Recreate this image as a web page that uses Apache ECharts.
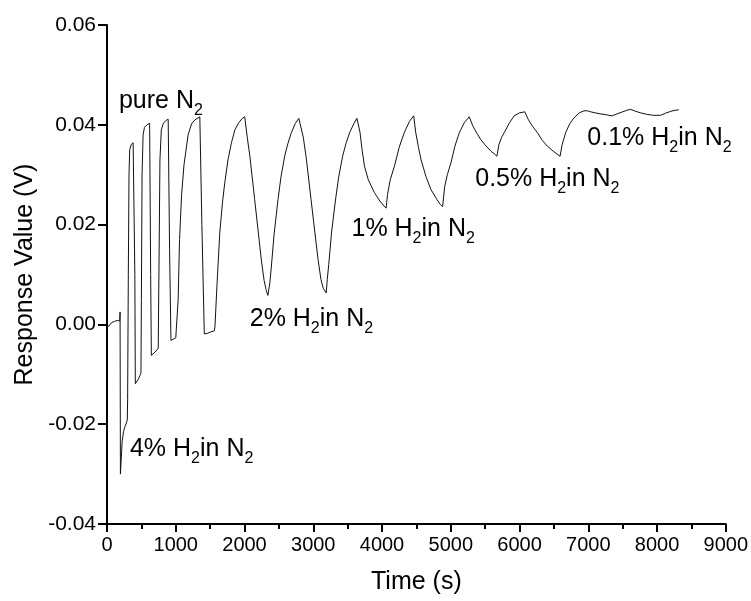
<!DOCTYPE html>
<html>
<head>
<meta charset="utf-8">
<script src="https://cdn.jsdelivr.net/npm/echarts@6/dist/echarts.min.js"></script>
<style>
  html, body { margin: 0; padding: 0; background: #fff; }
  #chart { width: 751px; height: 601px; }
</style>
</head>
<body>
<div id="chart"></div>
<script>
// response trace, [time (s), voltage (V)]
const trace = [
  [0, -0.0004], [30, -0.0003], [50, 0.0001], [70, 0.0004], [90, 0.0002], [110, 0.0006],
  [130, 0.0004], [150, 0.0008], [170, 0.0009], [185, 0.0007],
  // 4% H2 pulses
  [190, 0.0025], [195, -0.0300], [205, -0.0275], [220, -0.0235], [240, -0.0215],
  [260, -0.0205], [280, -0.0198], [295, -0.0192],
  [300, -0.0150], [310, 0.0100], [320, 0.0300], [330, 0.0350], [350, 0.0360], [380, 0.0364], [395, 0.0366],
  [405, 0.0100], [412, -0.0119], [430, -0.0115], [455, -0.0110], [480, -0.0102], [494, -0.0097],
  [500, 0.0050], [510, 0.0300], [525, 0.0380], [545, 0.0395], [580, 0.0400], [620, 0.0403],
  [635, 0.0100], [645, -0.0062], [680, -0.0058], [715, -0.0053], [745, -0.0048],
  [755, 0.0100], [770, 0.0330], [790, 0.0390], [820, 0.0403], [860, 0.0409], [890, 0.0411],
  [910, 0.0150], [930, -0.0032], [960, -0.0030], [1000, -0.0027], [1026, -0.0025],
  [1035, 0.0050], [1055, 0.0170], [1085, 0.0260], [1120, 0.0320], [1180, 0.0380],
  [1230, 0.0402], [1280, 0.0410], [1350, 0.0416],
  [1380, 0.0200], [1415, -0.0019], [1460, -0.0018], [1510, -0.0015], [1560, -0.0013], [1570, -0.0005],
  [1600, 0.0080], [1640, 0.0183], [1680, 0.0245], [1713, 0.0284], [1760, 0.0330], [1810, 0.0364],
  [1860, 0.0390], [1920, 0.0405], [1970, 0.0413], [2003, 0.0416],
  // 2% H2
  [2040, 0.0375], [2080, 0.0335], [2148, 0.0250], [2200, 0.0185], [2245, 0.0129], [2285, 0.0088],
  [2317, 0.0068], [2340, 0.0058], [2356, 0.0055],
  [2370, 0.0085], [2390, 0.0115], [2430, 0.0180], [2487, 0.0250], [2530, 0.0295], [2584, 0.0337],
  [2630, 0.0362], [2681, 0.0384], [2740, 0.0403], [2790, 0.0413], [2816, 0.0416],
  [2855, 0.0375], [2897, 0.0335], [2968, 0.0250], [3023, 0.0185], [3070, 0.0130], [3112, 0.0090],
  [3146, 0.0072], [3189, 0.0063],
  [3204, 0.0090], [3225, 0.0120], [3267, 0.0185], [3327, 0.0253], [3372, 0.0297], [3429, 0.0338],
  [3477, 0.0363], [3531, 0.0385], [3593, 0.0403], [3635, 0.0413], [3660, 0.0416],
  // 1% H2
  [3680, 0.0385], [3710, 0.0350], [3745, 0.0317], [3800, 0.0290], [3890, 0.0264], [3970, 0.0247],
  [4030, 0.0237], [4060, 0.0233],
  [4080, 0.0260], [4120, 0.0290], [4181, 0.0317], [4250, 0.0355], [4326, 0.0385], [4400, 0.0407], [4461, 0.0418],
  [4490, 0.0385], [4530, 0.0355], [4568, 0.0330], [4640, 0.0296], [4713, 0.0270], [4800, 0.0250],
  [4850, 0.0240], [4882, 0.0236],
  [4910, 0.0275], [4950, 0.0300], [5003, 0.0324], [5060, 0.0357], [5124, 0.0384], [5200, 0.0405], [5269, 0.0416],
  // 0.5% H2
  [5320, 0.0398], [5380, 0.0383], [5439, 0.0370], [5510, 0.0358], [5585, 0.0347], [5640, 0.0341], [5671, 0.0337],
  [5700, 0.0360], [5740, 0.0375], [5777, 0.0384], [5850, 0.0403], [5922, 0.0418], [6000, 0.0424], [6077, 0.0426],
  [6130, 0.0410], [6190, 0.0397], [6261, 0.0384], [6330, 0.0369], [6406, 0.0357], [6500, 0.0346],
  [6560, 0.0340], [6590, 0.0337],
  [6620, 0.0360], [6673, 0.0385], [6730, 0.0402], [6793, 0.0414], [6870, 0.0424], [6939, 0.0428], [6990, 0.0428],
  // 0.1% H2
  [7035, 0.0426], [7100, 0.0424], [7170, 0.0422], [7229, 0.0421], [7300, 0.0419], [7350, 0.0418],
  [7420, 0.0422], [7500, 0.0426], [7560, 0.0429], [7616, 0.0431], [7690, 0.0427], [7761, 0.0424],
  [7850, 0.0421], [7950, 0.0419], [8051, 0.0419], [8120, 0.0423], [8200, 0.0427], [8260, 0.0429], [8316, 0.0430]
];

// annotation anchors (left edge of text, middle of caps)
const labelTimes  = [174, 334, 2076, 3556, 5356, 6987];
const labelValues = [0.0448, -0.0250, 0.0011, 0.0191, 0.0292, 0.0373];
const labelTexts  = [
  'pure N{s|2}',
  '4% H{s|2}in N{s|2}',
  '2% H{s|2}in N{s|2}',
  '1% H{s|2}in N{s|2}',
  '0.5% H{s|2}in N{s|2}',
  '0.1% H{s|2}in N{s|2}'
];

const FONT = '"Liberation Sans", Arial, sans-serif';

const chart = echarts.init(document.getElementById('chart'), null, { renderer: 'canvas' });

const labelData = labelTimes.map((t, i) => ({ value: [t, labelValues[i]], text: labelTexts[i] }));

chart.setOption({
  animation: false,
  backgroundColor: '#fff',
  grid: { left: 107, right: 24, top: 25, bottom: 77 },
  xAxis: {
    type: 'value',
    min: 0, max: 9000, interval: 1000,
    name: 'Time (s)', nameLocation: 'middle', nameGap: 46,
    nameTextStyle: { fontFamily: FONT, fontSize: 25, color: '#000' },
    axisLine: { onZero: false, lineStyle: { color: '#000', width: 2 } },
    axisTick: { inside: false, length: 8, lineStyle: { color: '#000', width: 2 } },
    minorTick: { show: true, splitNumber: 2, length: 5, lineStyle: { color: '#000', width: 2 } },
    axisLabel: { fontFamily: FONT, fontSize: 20, color: '#000', margin: 11, formatter: v => String(v) },
    splitLine: { show: false }
  },
  yAxis: {
    type: 'value',
    min: -0.04, max: 0.06, interval: 0.02,
    name: 'Response Value (V)', nameLocation: 'middle', nameGap: 56,
    nameTextStyle: { fontFamily: FONT, fontSize: 25, color: '#000' },
    axisLine: { show: true, onZero: false, lineStyle: { color: '#000', width: 2 } },
    axisTick: { show: true, inside: false, length: 9, lineStyle: { color: '#000', width: 2 } },
    axisLabel: {
      fontFamily: FONT, fontSize: 21, color: '#000', margin: 11,
      formatter: v => (Math.abs(v) < 1e-9 ? 0 : v).toFixed(2)
    },
    splitLine: { show: false }
  },
  series: [
    {
      type: 'line',
      data: trace,
      showSymbol: false,
      lineStyle: { color: '#111', width: 1 },
      z: 2
    },
    {
      type: 'scatter',
      data: labelData,
      symbolSize: 0,
      silent: true,
      itemStyle: { opacity: 1 },
      label: {
        show: true,
        position: 'right',
        distance: 0,
        formatter: p => p.data.text,
        fontFamily: FONT,
        fontSize: 25,
        color: '#000',
        rich: {
          s: { fontFamily: FONT, fontSize: 16, color: '#000', verticalAlign: 'top', padding: [14, 0, 0, 0], lineHeight: 16 }
        }
      },
      z: 3
    }
  ]
});
</script>
</body>
</html>
